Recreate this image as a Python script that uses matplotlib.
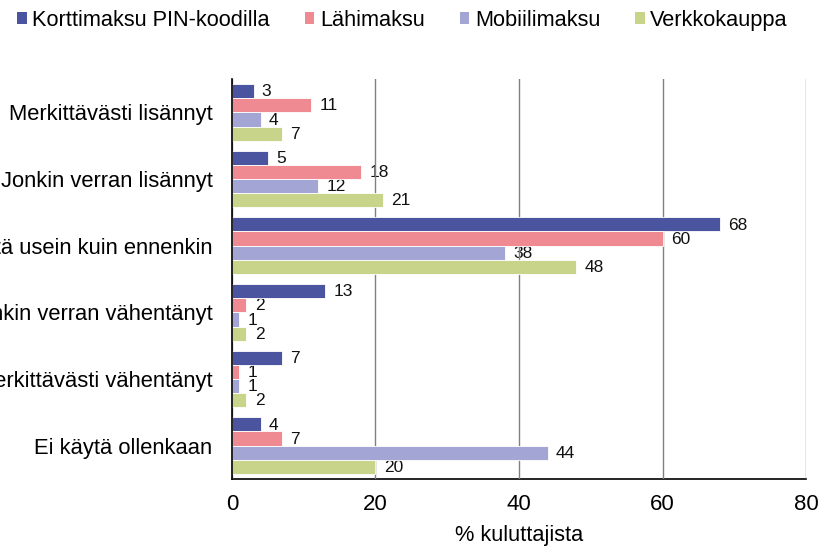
import matplotlib
matplotlib.use("Agg")
import matplotlib.pyplot as plt
import numpy as np
from matplotlib.patches import Patch

plt.rcParams['font.family'] = ['Liberation Sans', 'DejaVu Sans']

categories = ["Merkittävästi lisännyt", "Jonkin verran lisännyt", "Yhtä usein kuin ennenkin",
              "Jonkin verran vähentänyt", "Merkittävästi vähentänyt", "Ei käytä ollenkaan"]
series_names = ["Korttimaksu PIN-koodilla", "Lähimaksu", "Mobiilimaksu", "Verkkokauppa"]
kortti = [3, 5, 68, 13, 7, 4]
lahi = [11, 18, 60, 2, 1, 7]
mobiili = [4, 12, 38, 1, 1, 44]
verkko = [7, 21, 48, 2, 2, 20]
xticks = [0, 20, 40, 60, 80]
colors = ["#4B549E", "#F08A92", "#A3A6D4", "#C8D48A"]

fig = plt.figure(figsize=(8.2, 5.47), dpi=100)
ax = fig.add_axes([232/820, 1-479/547, (806-232)/820, (479-79)/547])

data = [kortti, lahi, mobiili, verkko]
n = len(categories)
y = np.arange(n)
h = 0.213
for i, (vals, c) in enumerate(zip(data, colors)):
    pos = y - 1.5*h + i*h
    ax.barh(pos, vals, height=h, color=c, edgecolor='white', linewidth=0.6, zorder=3)
    for p, v in zip(pos, vals):
        ax.annotate(str(v), (v, p), xytext=(6, -0.5), textcoords='offset points',
                    va='center', ha='left', fontsize=12.5, color='#111111', zorder=2)

ax.set_ylim(n-0.5, -0.5)
ax.set_xlim(0, 80)
ax.set_yticks(y)
ax.set_yticklabels(categories, fontsize=15.8)
ax.set_xticks(xticks)
ax.set_xticklabels([str(t) for t in xticks], fontsize=16)
ax.tick_params(axis='y', length=0, pad=14)
ax.tick_params(axis='x', length=0, pad=11)
ax.grid(axis='x', color='#808080', linewidth=1, zorder=1)
ax.set_axisbelow(False)
for s in ['top', 'right']:
    ax.spines[s].set_visible(False)
ax.spines['left'].set_color('black')
ax.spines['bottom'].set_color('black')
ax.spines['left'].set_linewidth(1.2)
ax.spines['bottom'].set_linewidth(1.2)
ax.spines['left'].set_zorder(5)
ax.set_xlabel("% kuluttajista", fontsize=15.7, labelpad=7)

handles = [Patch(facecolor=c, edgecolor='none') for c in colors]
fig.legend(handles, series_names, loc='upper left', bbox_to_anchor=(0.002, 1.01), ncol=4,
           frameon=False, fontsize=15.7, handlelength=0.45, handleheight=0.45,
           handletextpad=0.25, columnspacing=1.6, borderaxespad=0.3)

fig.savefig("out.png", dpi=100)
